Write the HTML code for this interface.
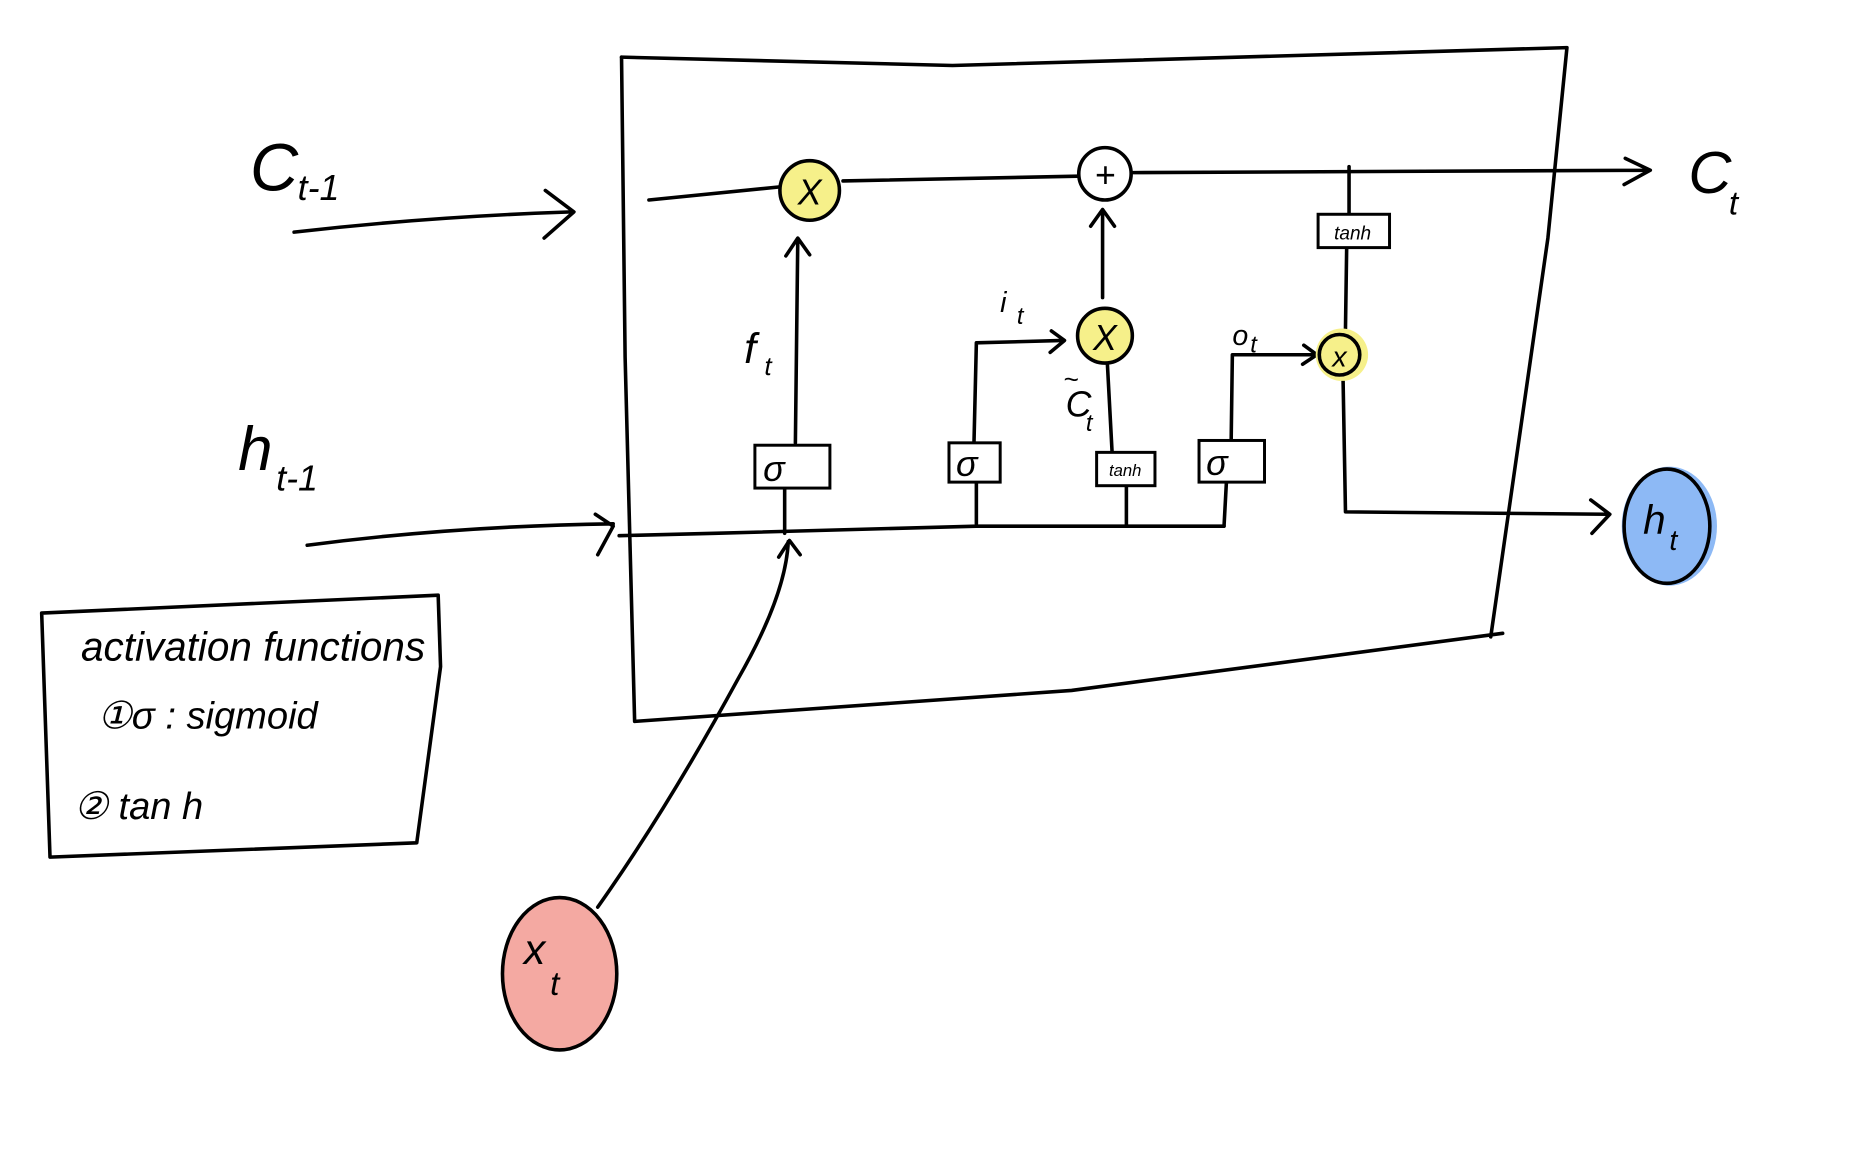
<!DOCTYPE html>
<html><head><meta charset="utf-8"><style>
html,body{margin:0;padding:0;background:#fff;}
svg{display:block;}
text{font-family:"Liberation Sans",sans-serif;font-style:italic;fill:#000;}
</style></head><body>
<svg width="1867" height="1169" viewBox="0 0 1568 982" preserveAspectRatio="none" xmlns="http://www.w3.org/2000/svg">
<g fill="none" stroke="#000" stroke-width="3" stroke-linecap="round" stroke-linejoin="round">
<path d="M522,48 L800,55 L1316,40 L1300,200 L1252,535"/>
<path d="M1262,532 L900,580 L533,606 L525,300 L522,48"/>
<path d="M247,195 Q360,182 480,178 M458,160 L482,178 L457,200"/>
<path d="M258,458 Q380,442 515,440 M500,432 L515,442 L502,466"/>
<path d="M545,168 L655,157 M708,152 L905,148 M952,145 L1385,143 M1365,133 L1386,143 L1364,155"/>
<path d="M1133,140 L1133,180 M1131,208 L1130,276 M1128,320 L1130,430 L1350,432 M1336,420 L1352,432 L1337,448"/>
<path d="M520,450 L600,448 L820,442 L1028,442"/>
<path d="M659,448 L659,410 M668,372 L670,202 M660,215 L670,200 L680,214"/>
<path d="M820,440 L820,405 M818,372 L820,288 L893,286 M883,278 L894,286 L882,296"/>
<path d="M946,442 L946,408 M934,380 L930,305"/>
<path d="M926,250 L926,178 M916,190 L926,176 L936,190"/>
<path d="M1028,442 L1030,405 M1034,370 L1035,298 L1105,298 M1095,290 L1106,298 L1094,306"/>
<path d="M502,762 Q560,680 620,570 Q660,500 662,455 M654,468 L663,454 L672,466"/>
<path d="M35,515 L368,500 L370,560 L350,708 L42,720 L35,515"/>
</g>
<circle cx="680" cy="160" r="25" fill="#f6f08a" stroke="#000" stroke-width="3"/>
<circle cx="928" cy="146" r="22" fill="#fff" stroke="#000" stroke-width="3"/>
<circle cx="928" cy="282" r="23" fill="#f6f08a" stroke="#000" stroke-width="3"/>
<circle cx="1127" cy="298" r="22" fill="#f6f08a" stroke="none"/>
<circle cx="1125" cy="298" r="17" fill="none" stroke="#000" stroke-width="3"/>
<ellipse cx="1402" cy="442" rx="40" ry="50" fill="#8db9f5"/>
<ellipse cx="1400" cy="442" rx="36" ry="48" fill="none" stroke="#000" stroke-width="3"/>
<ellipse cx="470" cy="818" rx="48" ry="64" fill="#f4a9a2" stroke="#000" stroke-width="3"/>
<g fill="#fff" stroke="#000" stroke-width="2.5">
<rect x="634" y="374" width="63" height="36"/>
<rect x="797" y="372" width="43" height="33"/>
<rect x="1007" y="370" width="55" height="35"/>
<rect x="921" y="380" width="49" height="28"/>
<rect x="1107" y="180" width="60" height="28"/>
</g>
<g font-size="30" text-anchor="middle">
<text x="680" y="172">X</text>
<text x="928" y="157" font-style="normal">+</text>
<text x="928" y="294">X</text>
<text x="1125" y="308" font-size="24">x</text>
<text x="650" y="404">σ</text>
<text x="812" y="400">σ</text>
<text x="1022" y="399">σ</text>
<text x="945" y="400" font-size="14">tanh</text>
<text x="1136" y="201" font-size="16">tanh</text>
</g>
<text x="210" y="160" font-size="56">C</text><text x="250" y="168" font-size="30">t-1</text>
<text x="200" y="395" font-size="52">h</text><text x="232" y="412" font-size="30">t-1</text>
<text x="1418" y="162" font-size="50">C</text><text x="1452" y="180" font-size="28">t</text>
<text x="1380" y="448" font-size="34">h</text><text x="1402" y="462" font-size="24">t</text>
<text x="440" y="810" font-size="36">x</text><text x="462" y="836" font-size="28">t</text>
<text x="625" y="305" font-size="36">f</text><text x="642" y="315" font-size="22">t</text>
<text x="840" y="262" font-size="24">i</text><text x="854" y="272" font-size="20">t</text>
<text x="895" y="350" font-size="30">C</text><text x="893" y="326" font-size="22">~</text><text x="912" y="362" font-size="20">t</text>
<text x="1035" y="290" font-size="24">o</text><text x="1050" y="296" font-size="20">t</text>
<text x="68" y="555" font-size="34">activation functions</text>
<text x="82" y="612" font-size="32">①σ : sigmoid</text>
<text x="62" y="688" font-size="32">② tan h</text>
</svg>
</body></html>
